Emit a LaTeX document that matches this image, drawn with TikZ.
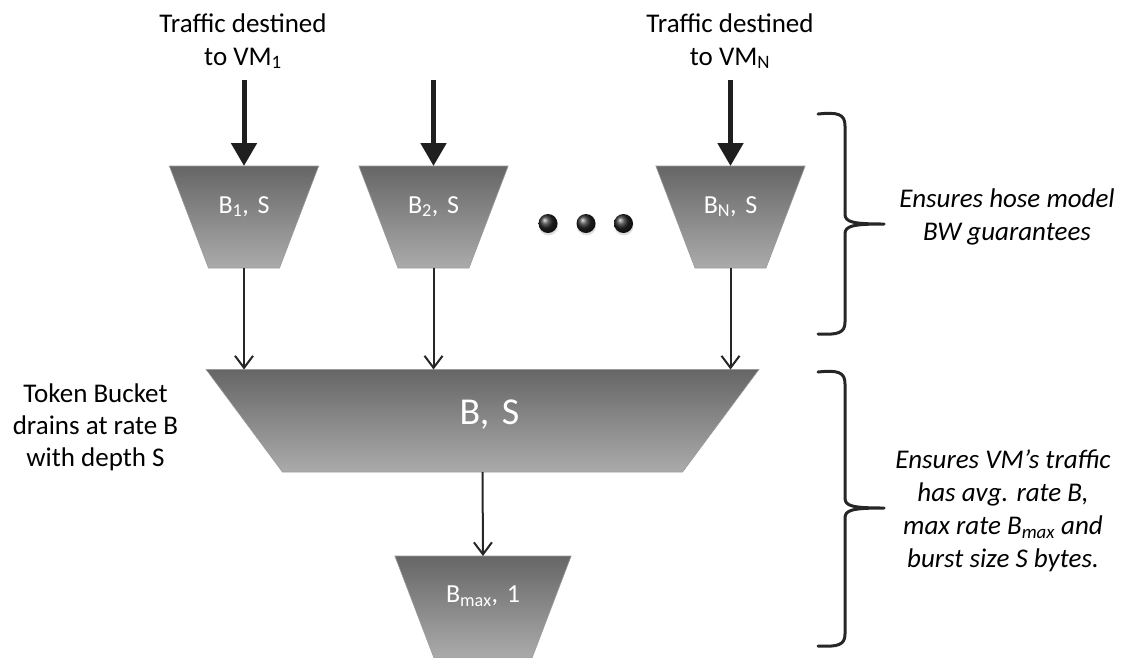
\documentclass[tikz,border=0pt]{standalone}
\usepackage{fontspec}
\setmainfont{Carlito}
\usetikzlibrary{shapes.geometric,arrows.meta,positioning,shadows}
\newcommand{\subtxt}[1]{\textsubscript{#1}}

\begin{document}
\begin{tikzpicture}[x=1pt,y=-1pt,on grid,
	bucket/.style={trapezium,shape border rotate=180,inner sep=0pt,outer sep=0pt,draw=black!40,line width=0.6pt,top color=black!60,bottom color=black!33,trapezium left angle=69,trapezium right angle=69,text width=71pt,text height=47pt,text depth=55pt,align=center,text=white,font=\fontsize{26}{30}\selectfont},
	txt/.style={align=center,font=\fontsize{27}{33}\selectfont},
	note/.style={align=center,font=\fontsize{27}{33}\selectfont\itshape},
	more/.style={circle,inner sep=0pt,minimum size=19pt,shading=ball,ball color=black!85,drop shadow={shadow xshift=0.5pt,shadow yshift=-2.5pt,opacity=0.25}},
	feed/.style={line width=5pt,draw=black!88,-{Triangle[length=23pt,width=25pt]}},
	drain/.style={line width=2pt,draw=black!85,-{Straight Barb[length=12pt,width=18pt]}},
	brace line/.style={line width=3pt,draw=black!85,line cap=round,line join=round}]
	\useasboundingbox (0,0) rectangle (1121,657);

	% per-VM buckets
	\node[bucket] (b1) at (244,217) {B\subtxt{1}, S};
	\node[bucket] (b2) [right=189.5pt of b1] {B\subtxt{2}, S};
	\node[bucket] (bn) [right=297pt of b2] {B\subtxt{N}, S};
	\node[more] (d1) at (548,223.5) {};
	\node[more] (d2) [right=38pt of d1] {};
	\node[more] (d3) [right=37.5pt of d2] {};

	% aggregate bucket and peak-rate bucket
	\node[bucket,trapezium left angle=53.3,trapezium right angle=53.3,text width=400pt,text height=54.7pt,text depth=47.8pt,font=\fontsize{38}{44}\selectfont] (bs) at (482.5,420.75) {B, S\hspace*{-14pt}};
	\node[bucket,text width=98pt,text height=46.4pt,text depth=55.6pt] (bmax) at (483,607) {B\subtxt{max}, 1};

	% incoming traffic
	\coordinate[above=137pt of b1] (in1);
	\coordinate[above=137pt of b2] (in2);
	\coordinate[above=137pt of bn] (inn);
	\node[txt] (vm1) at (243,41) {Traffic destined\\to VM\subtxt{1}};
	\node[txt] (vmn) at (730,41) {Traffic destined\\to VM\subtxt{N}};
	\draw[feed] (in1) -- (b1.north);
	\draw[feed] (in2) -- (b2.north);
	\draw[feed] (inn) -- (bn.north);

	\draw[drain] (b1.south) -- (b1.south |- bs.north);
	\draw[drain] (b2.south) -- (b2.south |- bs.north);
	\draw[drain] (bn.south) -- (bn.south |- bs.north);
	\draw[drain] (bs.south) -- (bmax.north);

	\node[txt,font=\fontsize{27}{32}\selectfont] (tb) at (95.5,427) {Token Bucket\\drains at rate B\\with depth S};

	% braces
	\draw[brace line] (818,114) .. controls (838,112) and (845,114) .. (845,126) -- (845,214) .. controls (845,222) and (852,224) .. (884,224) .. controls (852,224) and (845,226) .. (845,234) -- (845,322) .. controls (845,333) and (838,335) .. (818,334);
	\draw[brace line] (818,372) .. controls (838,370) and (845,372) .. (845,384) -- (845,498) .. controls (845,506) and (852,508) .. (884,508) .. controls (852,508) and (845,510) .. (845,518) -- (845,634) .. controls (845,645) and (838,647) .. (818,646);
	\node[note] (hose) at (1007,216.5) {Ensures hose model\\BW guarantees};
	\node[note] (rate) at (1003,511) {Ensures VM’s traffic\\has avg. rate B,\\max rate B\subtxt{max} and\\burst size S bytes.};
\end{tikzpicture}
\end{document}
